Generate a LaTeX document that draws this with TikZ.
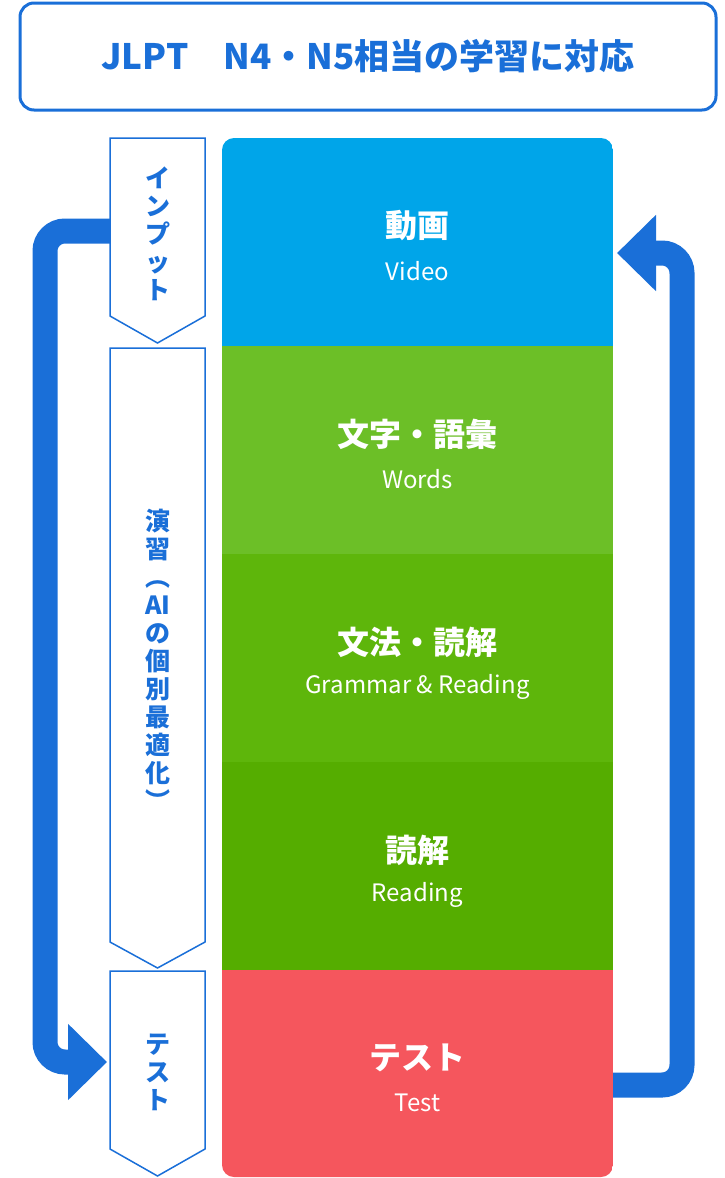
\documentclass[tikz,border=0pt]{standalone}
\usepackage{fontspec}
\setmainfont{Noto Sans CJK JP}
\usetikzlibrary{arrows.meta}
\definecolor{mainblue}{HTML}{1A6FD8}
\definecolor{cvideo}{HTML}{00A5E9}
\definecolor{cwords}{HTML}{6CBF27}
\definecolor{cgrammar}{HTML}{5EB60B}
\definecolor{creading}{HTML}{55AD00}
\definecolor{ctest}{HTML}{F5565D}
\begin{document}
\begin{tikzpicture}[x=1pt,y=-1pt,
  sec/.style={minimum width=391pt, minimum height=208pt, inner sep=0pt, outer sep=0pt, anchor=north west},
  jp/.style={text=white, font=\fontsize{32}{38}\selectfont\bfseries, inner sep=0pt},
  en/.style={text=white, font=\fontsize{24}{28}\selectfont, inner sep=0pt},
  vlabel/.style={text=mainblue, font=\fontsize{25}{28}\selectfont\bfseries, align=center, inner sep=0pt},
  chev/.style={draw=mainblue, line width=1.5pt, fill=white, line join=miter},
  flow/.style={draw=mainblue, line width=25pt, rounded corners=20pt, -{Triangle[length=39pt,width=74pt]}}
]
\useasboundingbox (0,0) rectangle (725,1178);

% title
\node[draw=mainblue, line width=3pt, rounded corners=14pt, minimum width=696pt, minimum height=107pt, inner sep=0pt, text=mainblue, font=\fontsize{35}{40}\selectfont\bfseries] (title) at (368,56.5) {JLPT　N4・N5相当の学習に対応};

% right column
\begin{scope}
\clip[rounded corners=12pt] (222,138) rectangle (613,1177);
\node[sec, fill=cvideo] (video) at (222,138) {};
\node[sec, fill=cwords] (words) at (222,346) {};
\node[sec, fill=cgrammar] (grammar) at (222,554) {};
\node[sec, fill=creading] (reading) at (222,762) {};
\node[sec, fill=ctest] (test) at (222,970) {};
\end{scope}

\foreach \n/\j/\e in {video/動画/Video, words/文字・語彙/Words, grammar/文法・読解/Grammar \& Reading, reading/読解/Reading, test/テスト/Test}{
  \node[jp] at ([yshift=16pt]\n.center) {\j};
  \node[en] at ([yshift=-29pt]\n.center) {\e};
}

% connectors
\coordinate (inpW) at (110,231);
\coordinate (testW) at (107,1062);
\draw[flow] ([yshift=-11pt]test.east) -- (682,1085) -- (682,253) -- ([xshift=4pt,yshift=-11pt]video.east);
\draw[flow] ([xshift=2pt]inpW) -- (45,231) -- (45,1062) -- (testW);

% left chevrons
\draw[chev] (110,138) -- (205,138) -- (205,316) -- (157.5,343) -- (110,316) -- cycle;
\draw[chev] (110,348) -- (205,348) -- (205,942) -- (157.5,968) -- (110,942) -- cycle;
\draw[chev] (110,971) -- (205,971) -- (205,1149) -- (157.5,1176) -- (110,1149) -- cycle;

\node[vlabel] (inp) at (158,234) {イ\\ン\\プ\\ッ\\ト};
\node[vlabel] (ensh) at (158,660) {演\\習\\︵\\AI\\の\\個\\別\\最\\適\\化\\︶};
\node[vlabel] (tst) at (158,1072) {テ\\ス\\ト};
\end{tikzpicture}
\end{document}
